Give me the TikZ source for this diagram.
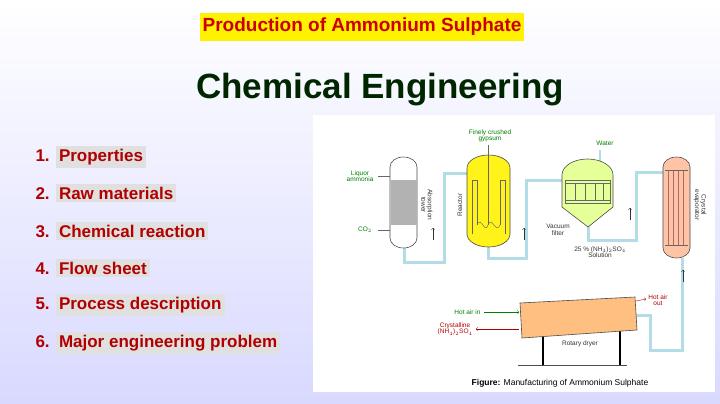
\documentclass[tikz,border=0pt]{standalone}
\usepackage{fontspec}
\setmainfont{Liberation Sans}
\definecolor{pipec}{RGB}{180,220,230}
\begin{document}
\begin{tikzpicture}[x=1pt,y=-1pt,
 item/.style={anchor=west,text=red!70!black,font=\fontsize{17}{17}\selectfont\bfseries},
 pipe/.style={draw=pipec,line width=3pt},
 lab/.style={font=\fontsize{6.5}{6.5}\selectfont,text=green!50!black,align=center},
 labd/.style={font=\fontsize{6.5}{6.5}\selectfont,text=black!80,align=center},
 labr/.style={font=\fontsize{6.5}{6.5}\selectfont,text=red!70!black,align=center},
 vessel/.style={draw=black!70,line width=0.6pt}]
\useasboundingbox (0,0) rectangle (720,404);
\shade[top color=white,bottom color=blue!15] (0,0) rectangle (720,404);
% title
\node[fill=yellow,text=red!80!black,font=\fontsize{19}{19}\selectfont\bfseries,inner xsep=3pt,inner ysep=5pt] (t) at (362,27) {Production of Ammonium Sulphate};
\node[text=black!85!green,font=\fontsize{35}{35}\selectfont\bfseries] (ce) at (380,90) {Chemical Engineering};
% list
\node[item] (i1) at (32,157) {1. \colorbox{black!12}{Properties}};
\node[item] (i2) at (32,193) {2. \colorbox{black!12}{Raw materials}};
\node[item] (i3) at (32,231) {3. \colorbox{black!12}{Chemical reaction}};
\node[item] (i4) at (32,268) {4. \colorbox{black!12}{Flow sheet}};
\node[item] (i5) at (32,305) {5. \colorbox{black!12}{Process description}};
\node[item] (i6) at (32,343) {6. \colorbox{black!12}{Major engineering problem}};
% panel
\fill[white] (313,115) rectangle (715,392);
% pipes
\draw[pipe] (404,248) -- (404,262) -- (444,262) -- (444,173) -- (480,173) -- (480,160);
\draw[pipe] (488,247) -- (488,258) -- (526,258) -- (526,180) -- (562,180);
\draw[pipe] (588,227) -- (588,240) -- (636,240) -- (636,172) -- (663,172);
\draw[pipe] (682,258) -- (682,350) -- (650,350) -- (650,315) -- (636,315);
\draw[pipe,line width=2pt] (600,150) -- (600,162);
% absorption tower
\draw[vessel,fill=white] (390,167) arc(180:360:13.5 and 10) -- (417,238) arc(0:180:13.5 and 10) -- cycle;
\fill[black!30] (390.5,180) rectangle (416.5,225);
\draw[black!60] (378,176) -- (390,176) (378,230) -- (390,230);
\node[lab] (la) at (360,176) {Liquor\\ammonia};
\node[lab] (co) at (365,230) {CO$_2$};
\node[labd,rotate=-90] (at) at (427,205) {Absorption\\tower};
% reactor
\draw[vessel,fill=yellow!90!white] (467,168) arc(180:360:21.5 and 13) -- (510,234) arc(0:180:21.5 and 13) -- cycle;
\draw[black!60] (472,234) -- (472,180) -- (477,180) -- (477,225) (505,234) -- (505,180) -- (500,180) -- (500,225);
\draw[black!60] (488,145) -- (488,225);
\draw[black!60] (477,225) .. controls (481,215) and (485,235) .. (488,225) .. controls (492,215) and (496,235) .. (500,225);
\node[lab] (gy) at (490,136) {Finely crushed\\gypsum};
\node[labd,rotate=90] (re) at (460,205) {Reactor};
% vacuum filter
\draw[vessel,fill=green!25!yellow!40] (562,175) arc(180:360:25.5 and 16) -- (613,207) -- (588,227) -- (562,207) -- cycle;
\draw[black!60] (565,180) rectangle (610,203);
\foreach \x in {575,585,595,603} \draw[black!60] (\x,183) -- (\x,200);
\draw[black!60] (565,183) -- (610,183) (565,200) -- (610,200);
\node[lab] (wa) at (605,143) {Water};
\node[labd] (vf) at (558,230) {Vacuum\\filter};
\node[labd] (so) at (600,252) {25 \% (NH$_4$)$_2$SO$_4$\\Solution};
% evaporator
\draw[vessel,fill=red!35!orange!35] (663,167) arc(180:360:13.5 and 10) -- (690,248) arc(0:180:13.5 and 10) -- cycle;
\foreach \x in {668,673,678,683} \draw[red!50!black!60] (\x,170) -- (\x,245);
\draw[black!60] (665,170) -- (688,170) (665,245) -- (688,245);
\node[labd,rotate=-90] (ev) at (700,205) {Crystal\\evaporator};
% flow arrows
\draw[->,black!80] (433,240) -- (433,228);
\draw[->,black!80] (524,240) -- (524,228);
\draw[->,black!80] (630,220) -- (630,208);
\draw[->,black!80] (683,282) -- (683,270);
% rotary dryer
\draw[black,line width=2pt] (543,335) -- (543,365) (620,330) -- (620,365);
\draw[black!70] (518,365) -- (627,365);
\draw[vessel,fill=orange!50] (520,303) -- (635,297) -- (637,330) -- (522,338) -- cycle;
\node[labd] (rd) at (580,344) {Rotary dryer};
\draw[->,green!50!black] (484,312) -- (519,312);
\node[lab,anchor=east] (hi) at (484,312) {Hot air in};
\draw[<-,red!70!black] (476,329) -- (519,329);
\node[labr,anchor=east] (cr) at (476,329) {Crystalline\\(NH$_4$)$_2$SO$_4$};
\draw[->,red!70!black] (636,301) -- (646,299);
\node[labr] (ho) at (658,300) {Hot air\\out};
\node[font=\fontsize{8.5}{8.5}\selectfont] (fig) at (560,383) {\textbf{Figure:} Manufacturing of Ammonium Sulphate};
\end{tikzpicture}
\end{document}
